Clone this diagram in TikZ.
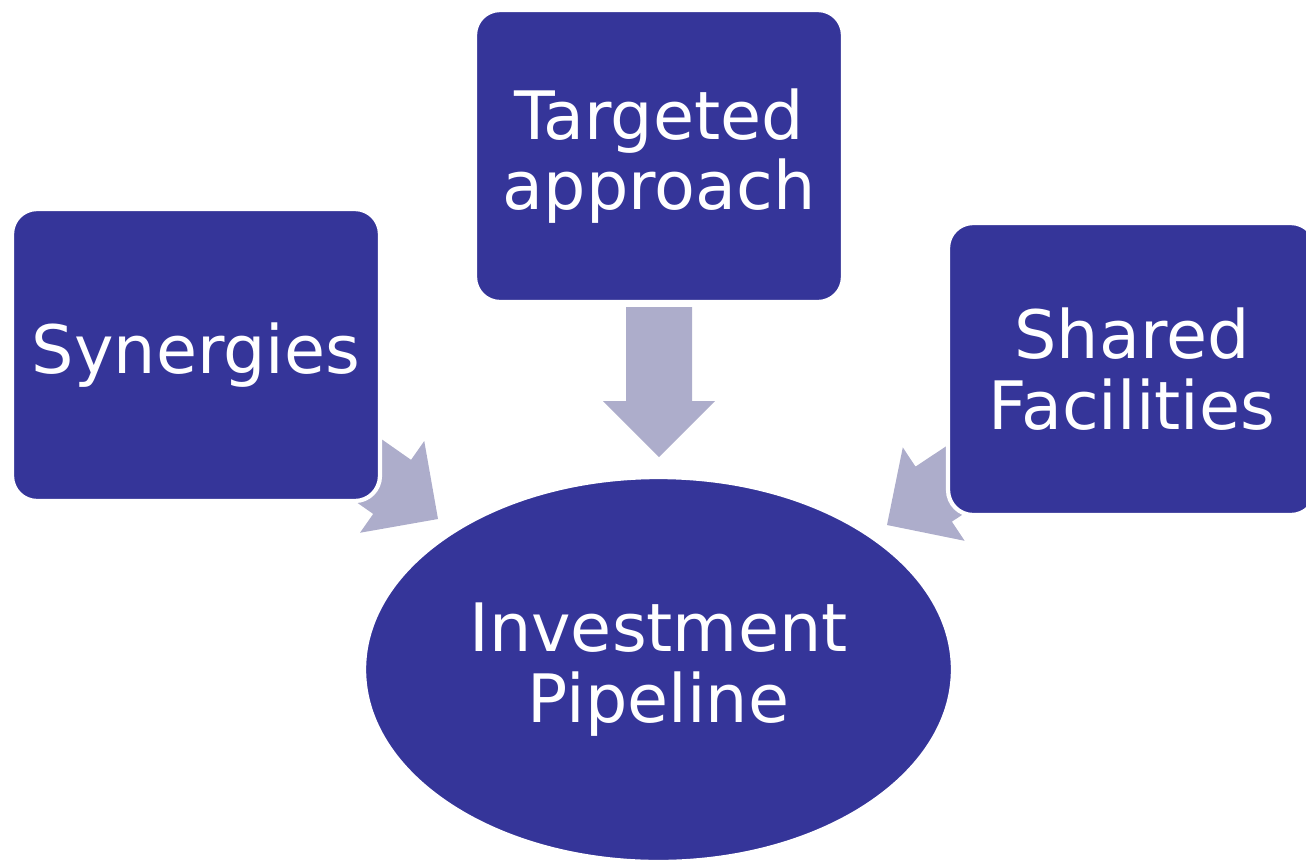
\documentclass[tikz,border=0pt]{standalone}
\usepackage{fontspec}
\setmainfont{DejaVu Sans}
\usetikzlibrary{shapes.geometric}
\definecolor{boxblue}{RGB}{53,53,153}
\definecolor{arrowgray}{RGB}{173,173,203}
\tikzset{
  blockarr/.pic={
    \fill[arrowgray] (0,0) -- (-56,56) -- (-56,33) -- (-150,33)
      -- (-150,-33) -- (-56,-33) -- (-56,-56) -- cycle;
  }
}
\begin{document}
\begin{tikzpicture}[x=0.02cm,y=-0.02cm]

        \useasboundingbox (0,0) rectangle (1306,863);

        \coordinate (t1) at (438,519);
        \coordinate (t2) at (659,457);
        \coordinate (t3) at (887,525);

        % arrows go under the boxes
        \pic[rotate=-35] at (t1) {blockarr};
        \pic[rotate=-90] at (t2) {blockarr};
        \pic[rotate=-146.5] at (t3) {blockarr};

        \begin{scope}[every node/.style={fill=boxblue,draw=white,line width=2.4pt,
            text=white,align=center,font=\fontsize{38}{40}\selectfont,inner sep=0pt}]
          \begin{scope}[every node/.append style={rectangle,rounded corners=0.5cm,
              minimum width=7.36cm,minimum height=5.84cm}]
            \node (syn) at (196,355)   {Synergies};
            \node (tgt) at (659,156) {Targeted\\approach};
            \node (shr) at (1132,369)  {Shared\\Facilities};
          \end{scope}
          \node[ellipse,minimum width=11.78cm,minimum height=7.7cm] (pipe) at (658.5,669.5)
            {Investment\\Pipeline};
        \end{scope}

      \end{tikzpicture}
\end{document}
